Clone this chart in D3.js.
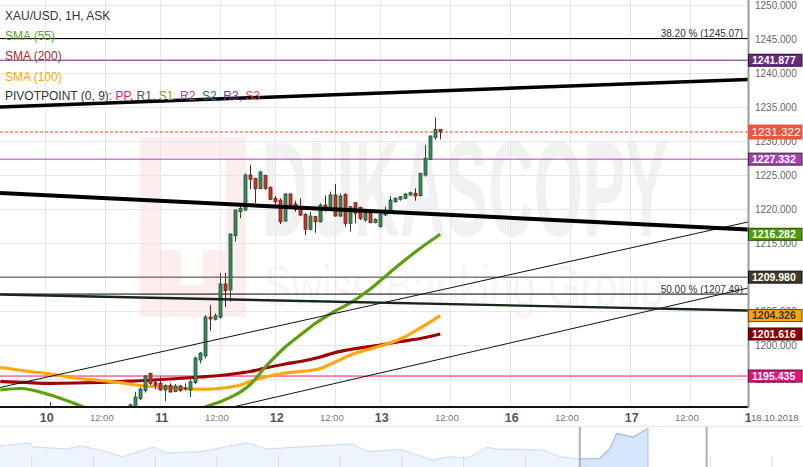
<!DOCTYPE html>
<html><head><meta charset="utf-8">
<script src="https://cdn.jsdelivr.net/npm/d3@7"></script>
<style>
body{margin:0;background:#fff;}
svg{display:block;font-family:"Liberation Sans",Arial,sans-serif;}
</style>
</head><body>
<svg id="c" width="803" height="467"></svg>
<script>
// ---------------- DATA ----------------
// hourly candles, x = bar index (0 = Oct 10 00:00, 23 bars per trading day)
const candleBar   = [-4,1,6,17,18,19,20,21,22,23,24,25,26,27,28,29,30,31,32,33,34,35,36,37,38,39,40,41,42,43,44,45,46,47,48,49,50,51,52,53,54,55,56,57,58,59,60,61,62,63,64,65,66,67,68,69,70,71,72,73,74,75,76,77,78,79];
const candleOpen  = [1188.5,1190.0,1189.0,1190.3,1190.9,1192.10,1193.28,1195.84,1194.46,1194.37,1193.38,1194.07,1193.13,1193.97,1193.53,1193.38,1194.46,1197.79,1198.38,1204.12,1203.78,1204.07,1208.97,1208.09,1216.07,1219.60,1219.85,1225.00,1224.51,1222.99,1224.96,1223.19,1221.57,1221.32,1218.24,1222.21,1220.74,1220.10,1219.22,1217.01,1218.87,1218.13,1220.59,1220.34,1222.06,1218.97,1222.16,1217.90,1220.93,1220.25,1218.38,1219.37,1217.99,1217.40,1219.12,1219.85,1221.07,1221.43,1221.57,1222.06,1222.31,1221.96,1225.00,1227.31,1230.54,1231.72];
const candleHigh  = [1191.05,1191.6,1191.0,1191.4,1193.13,1193.78,1195.6,1195.9,1194.85,1195.34,1194.2,1194.37,1194.26,1194.12,1194.37,1194.96,1198.28,1199.0,1204.4,1205.88,1204.66,1210.59,1210.59,1216.4,1219.9,1220.59,1225.25,1226.47,1224.6,1225.63,1225.0,1223.28,1221.9,1221.57,1222.3,1222.3,1221.22,1221.57,1219.37,1219.6,1218.97,1220.85,1222.0,1222.55,1223.68,1222.3,1222.3,1220.44,1220.93,1220.34,1219.85,1219.46,1218.63,1219.6,1220.34,1221.91,1221.72,1221.91,1222.3,1222.55,1223.04,1225.34,1229.41,1230.8,1233.49,1231.75];
const candleLow   = [1187.5,1188.5,1188.0,1190.0,1190.6,1191.9,1193.0,1194.1,1193.5,1193.28,1191.76,1193.0,1193.1,1193.13,1193.28,1192.35,1194.26,1197.3,1198.0,1202.10,1203.6,1203.9,1205.59,1206.37,1215.19,1218.63,1219.7,1222.90,1220.88,1222.9,1222.8,1221.32,1220.59,1217.79,1218.13,1220.34,1219.6,1218.97,1216.18,1216.9,1216.51,1218.0,1219.6,1220.25,1218.87,1218.8,1217.40,1216.66,1217.90,1218.38,1218.13,1217.90,1217.90,1217.25,1218.97,1219.75,1220.93,1221.22,1221.43,1221.91,1221.22,1221.81,1224.75,1227.2,1230.15,1230.25];
const candleClose = [1189.0,1189.2,1189.8,1191.2,1192.35,1193.53,1195.44,1194.37,1194.07,1193.38,1194.07,1193.09,1193.97,1193.28,1193.68,1194.60,1198.09,1198.82,1204.12,1203.82,1204.31,1208.97,1207.99,1216.32,1219.85,1220.10,1225.00,1224.37,1223.04,1225.44,1223.04,1221.43,1221.07,1218.13,1222.21,1220.59,1219.96,1219.12,1217.01,1218.97,1218.13,1220.59,1220.34,1222.06,1218.97,1221.91,1217.90,1220.34,1219.37,1218.63,1219.37,1217.99,1218.49,1219.22,1219.85,1221.32,1221.57,1221.81,1222.21,1222.40,1221.91,1225.25,1227.46,1230.74,1231.72,1231.322];

// moving averages
const sma55Bar  = [-9,-5,1,7,13,19,25,30,32,35,38,41,44,48,51,54,58,61,65,70,74,79];
const sma55Val  = [1193.38,1193.60,1192.65,1191.07,1189.26,1188.24,1188.68,1190.15,1190.88,1191.66,1192.65,1194.19,1196.76,1199.71,1201.47,1203.16,1205.0,1206.18,1208.24,1211.32,1213.68,1216.282];
const smaBar    = [-9,-4,1,6,11,15,19,25,31,35,39,41,44,48,51,55,58,61,67,71,75,79];
const sma200Val = [1194.63,1194.49,1194.37,1194.41,1194.49,1194.60,1194.74,1195.00,1195.29,1195.51,1195.88,1196.10,1196.62,1197.21,1197.57,1198.24,1198.90,1199.34,1200.00,1200.51,1200.96,1201.616];
const sma100Val = [1196.69,1196.18,1195.74,1195.15,1194.78,1194.46,1194.04,1193.75,1193.49,1193.63,1194.12,1194.63,1195.29,1195.88,1196.10,1196.54,1197.50,1198.53,1199.85,1200.88,1202.50,1204.326];

// drawn lines: [startBar, endBar] and [startPrice, endPrice]
const lineBars      = [-9.06, 140.54];
const trendUpper    = [1235.00, 1239.04];
const trendLower    = [1222.35, 1216.99];
const channelUpper  = [1193.75, 1218.09];
const channelLower  = [1182.97, 1208.38];
const darkTrend     = [1207.43, 1205.07];

// fibonacci and pivot levels
const fibValues = [1245.07, 1207.49];
const fibLabels = ["38.20 % (1245.07)", "50.00 % (1207.49)"];
const pivotNames  = ["R3","R2","R1","PP"];
const pivotValues = [1241.877, 1227.332, 1209.980, 1195.435];
const lastPrice = 1231.322;

// price tags on the right axis
const tagValues = [1241.877, 1231.322, 1227.332, 1216.282, 1209.980, 1204.326, 1201.616, 1195.435];

// axes
const yTicks = [1195,1200,1205,1210,1215,1220,1225,1230,1235,1240,1245,1250];
const xTickBars   = [0,12,23,35,46,58,67,81,93,105,117,129,141];
const xTickLabels = ["10","12:00","11","12:00","12","12:00","13","12:00","16","12:00","17","12:00","18"];
const dateLabel = "18.10.2018";

// navigator (position in % of width, value in % of height)
const navPos = [0,3.7,4.1,8.3,10.0,12.5,15.3,18.7,19.1,20.8,24.9,28.6,30.8,33.2,37.4,41.5,44.0,45.7,49.8,53.9,56.0,58.2,60.6,62.3,65.1,67.6,69.7,72.2,74.7,76.0,76.8,78.8,80.7];
const navVal = [50,57.1,47.6,42.9,50,40.5,24.5,45.2,47.6,33.3,36.4,50,57.1,42.9,47.6,52.4,54.8,36.4,42.1,16.7,24.5,20.7,46.9,42.1,42.1,40.5,24.5,19.0,20.7,44.5,80.2,70.7,92.1];

// legend
const legendTitle = "XAU/USD, 1H, ASK";
const legendSma = ["SMA (55)","SMA (200)","SMA (100)"];
const legendPivotParts = ["PP","R1","S1","R2","S2","R3","S3"];

// ---------------- STYLE ----------------
const plotR = 748, plotB = 407;
const C = {
  grid:"#e6e6e6", green:"#5e9f0e", sma200:"#a10000", sma100:"#ffa70f",
  upFill:"#3c8c5c", upStroke:"#1f4f33", dnFill:"#c8392a", dnStroke:"#6e1a10",
  R3:"#6b2b7c", R2:"#a543ae", R1:"#4a4332", PP:"#e3186f"
};
const tagStyle = [
  {bg:"#6b2b7c", bd:"#2c0f35", fg:"#fff", big:false},
  {bg:"#e9573f", bd:"#e9573f", fg:"#fff", big:true},
  {bg:"#a543ae", bd:"#4b1a50", fg:"#fff", big:false},
  {bg:"#4e9a08", bd:"#214a00", fg:"#fff", big:false},
  {bg:"#3f3a2a", bd:"#111", fg:"#fff", big:false},
  {bg:"#ffa500", bd:"#6a4a00", fg:"#333", big:false},
  {bg:"#8e0000", bd:"#3a0000", fg:"#fff", big:false},
  {bg:"#e7127a", bd:"#6a0030", fg:"#fff", big:false}
];
const legendSmaColors = ["#5fa51c","#b02a2a","#ffa500"];
const legendPivotColors = ["#e8186c","#555555","#8a9a2a","#9b4fb0","#2e6a8a","#7b3f95","#e2543c"];

// ---------------- CHART ----------------
const svg = d3.select("#c");
const x = d3.scaleLinear().domain([lineBars[0], lineBars[1]]).range([0, plotR]);
const y = d3.scaleLinear().domain([1195, 1250]).range([379, 5]);

svg.append("defs").append("clipPath").attr("id","plot")
  .append("rect").attr("x",0).attr("y",0).attr("width",plotR).attr("height",plotB);

// watermark
const wm = svg.append("g").attr("clip-path","url(#plot)");
wm.append("rect").attr("x",140).attr("y",137).attr("width",106).attr("height",180).attr("fill","#fcedef");
wm.append("rect").attr("x",160).attr("y",157).attr("width",66).attr("height",93).attr("fill","#fff");
wm.append("rect").attr("x",181).attr("y",250).attr("width",22).attr("height",35).attr("fill","#fff");
wm.append("text").attr("x",262).attr("y",236).attr("font-size",136).attr("font-weight","bold")
  .attr("fill","#f1f1f1").attr("textLength",406).attr("lengthAdjust","spacingAndGlyphs").text("DUKASCOPY");
wm.append("text").attr("x",264).attr("y",306).attr("font-size",58)
  .attr("fill","#f6f6f6").attr("textLength",400).attr("lengthAdjust","spacingAndGlyphs").text("Swiss Banking Group");

// grid
const grid = svg.append("g");
grid.selectAll(".hg").data(yTicks).join("line")
  .attr("x1",0).attr("x2",plotR).attr("y1",d=>y(d)+0.5).attr("y2",d=>y(d)+0.5)
  .attr("stroke",C.grid);
grid.selectAll(".vg").data(xTickBars.filter(b=>x(b)<plotR)).join("line")
  .attr("x1",d=>Math.round(x(d))+0.5).attr("x2",d=>Math.round(x(d))+0.5).attr("y1",0).attr("y2",plotB)
  .attr("stroke",C.grid);

const plot = svg.append("g").attr("clip-path","url(#plot)");

// fib lines
plot.selectAll(".fib").data(fibValues).join("line")
  .attr("x1",0).attr("x2",plotR).attr("y1",d=>y(d)).attr("y2",d=>y(d))
  .attr("stroke","#000").attr("stroke-width",1);
plot.selectAll(".fibt").data(fibValues).join("text")
  .attr("x",743).attr("y",d=>y(d)-1.5).attr("text-anchor","end")
  .attr("font-size",10).attr("fill","#333").text((d,i)=>fibLabels[i]);

// pivot lines
plot.selectAll(".piv").data(pivotValues).join("line")
  .attr("x1",0).attr("x2",plotR).attr("y1",d=>y(d)).attr("y2",d=>y(d))
  .attr("stroke",(d,i)=>C[pivotNames[i]]).attr("stroke-width",1);

// last price dashed
plot.append("line").attr("x1",0).attr("x2",plotR).attr("y1",y(lastPrice)).attr("y2",y(lastPrice))
  .attr("stroke","#e8492f").attr("stroke-dasharray","3,2");

// SMA lines
const smaLine = d3.line().x(d=>x(d[0])).y(d=>y(d[1])).curve(d3.curveMonotoneX);
plot.append("path").attr("d",smaLine(smaBar.map((b,i)=>[b,sma200Val[i]])))
  .attr("fill","none").attr("stroke",C.sma200).attr("stroke-width",3.2);
plot.append("path").attr("d",smaLine(smaBar.map((b,i)=>[b,sma100Val[i]])))
  .attr("fill","none").attr("stroke",C.sma100).attr("stroke-width",3.2);
plot.append("path").attr("d",smaLine(sma55Bar.map((b,i)=>[b,sma55Val[i]])))
  .attr("fill","none").attr("stroke",C.green).attr("stroke-width",3.2);

// candles
const candles = candleBar.map((b,i)=>({b,o:candleOpen[i],h:candleHigh[i],l:candleLow[i],c:candleClose[i]}));
const cg = plot.selectAll(".cdl").data(candles).join("g");
cg.append("line")
  .attr("x1",d=>Math.round(x(d.b))+0.5).attr("x2",d=>Math.round(x(d.b))+0.5)
  .attr("y1",d=>y(d.h)).attr("y2",d=>y(d.l))
  .attr("stroke",d=>d.c>=d.o?C.upStroke:C.dnStroke).attr("stroke-width",1);
cg.append("rect")
  .attr("x",d=>Math.round(x(d.b))-1)
  .attr("width",3)
  .attr("y",d=>y(Math.max(d.o,d.c)))
  .attr("height",d=>Math.max(1,Math.abs(y(d.o)-y(d.c))))
  .attr("fill",d=>d.c>=d.o?C.upFill:C.dnFill)
  .attr("stroke",d=>d.c>=d.o?C.upStroke:C.dnStroke).attr("stroke-width",0.8);

// drawn trend lines
function seg(vals, w, col){
  plot.append("line")
    .attr("x1",x(lineBars[0])).attr("y1",y(vals[0]))
    .attr("x2",x(lineBars[1])).attr("y2",y(vals[1]))
    .attr("stroke",col).attr("stroke-width",w);
}
seg(channelUpper,1,"#111");
seg(channelLower,1,"#111");
seg(darkTrend,2.4,"#16261a");
seg(trendUpper,3.5,"#000");
seg(trendLower,4,"#000");

// axes lines
svg.append("line").attr("x1",0).attr("x2",plotR).attr("y1",plotB).attr("y2",plotB)
  .attr("stroke","#111").attr("stroke-width",2);
svg.append("line").attr("x1",plotR+0.5).attr("x2",plotR+0.5).attr("y1",0).attr("y2",plotB+1)
  .attr("stroke","#9a9a9a").attr("stroke-width",2);

// y axis labels
svg.selectAll(".yl").data(yTicks).join("text")
  .attr("x",755).attr("y",d=>y(d)).attr("dy","0.35em")
  .attr("font-size",10).attr("fill","#666").text(d=>d3.format(".3f")(d));

// price tags
const tg = svg.selectAll(".tag").data(tagValues).join("g");
tg.append("rect")
  .attr("x",748.5).attr("width",53.5)
  .attr("y",(d,i)=>y(d)-(tagStyle[i].big?7:6))
  .attr("height",(d,i)=>tagStyle[i].big?14:12)
  .attr("fill",(d,i)=>tagStyle[i].bg).attr("stroke",(d,i)=>tagStyle[i].bd).attr("stroke-width",1);
tg.append("text")
  .attr("x",(d,i)=>tagStyle[i].big?751.5:752).attr("y",d=>y(d)).attr("dy","0.36em")
  .attr("font-size",(d,i)=>tagStyle[i].big?11.8:10.5).attr("font-weight",(d,i)=>tagStyle[i].big?"normal":"bold")
  .attr("fill",(d,i)=>tagStyle[i].fg).text(d=>d3.format(".3f")(d));

// x axis labels
svg.selectAll(".xl").data(xTickBars).join("text")
  .attr("x",(d,i)=>x(d)+(xTickLabels[i]==="12:00"?-3.5:1.5))
  .attr("y",(d,i)=>xTickLabels[i]==="12:00"?420.5:421.8)
  .attr("text-anchor","middle")
  .attr("font-size",(d,i)=>xTickLabels[i]==="12:00"?9.5:12.5)
  .attr("font-weight",(d,i)=>xTickLabels[i]==="12:00"?"normal":"bold")
  .attr("fill",(d,i)=>xTickLabels[i]==="12:00"?"#777":"#555")
  .text((d,i)=>xTickLabels[i]);
svg.append("rect").attr("x",751).attr("y",409).attr("width",52).attr("height",15).attr("fill","#fff");
svg.append("text").attr("x",751).attr("y",420.5).attr("font-size",9.5).attr("fill","#666").text(dateLabel);

// navigator
const nx = d3.scaleLinear().domain([0,100]).range([0,803]);
const ny = d3.scaleLinear().domain([0,100]).range([467,425]);
const navData = navPos.map((p,i)=>[p,navVal[i]]);
svg.append("line").attr("x1",0).attr("x2",803).attr("y1",426.5).attr("y2",426.5).attr("stroke","#e6e6e6");
const navArea = d3.area().x(d=>nx(d[0])).y0(467).y1(d=>ny(d[1]));
const navLn = d3.line().x(d=>nx(d[0])).y(d=>ny(d[1]));
svg.append("path").attr("d",navArea(navData)).attr("fill","#eef4fd");
svg.append("path").attr("d",navLn(navData)).attr("fill","none").attr("stroke","#c9dbf6").attr("stroke-width",1);
svg.append("defs").append("clipPath").attr("id","sel")
  .append("rect").attr("x",nx(72.2)).attr("y",420).attr("width",nx(80.7)-nx(72.2)+1).attr("height",50);
const sel = svg.append("g").attr("clip-path","url(#sel)");
sel.append("path").attr("d",navArea(navData)).attr("fill","#d7e5fa");
sel.append("path").attr("d",navLn(navData)).attr("fill","none").attr("stroke","#9cc0f2").attr("stroke-width",1.2);
svg.append("line").attr("x1",nx(80.7)).attr("x2",nx(80.7)).attr("y1",ny(navVal[navVal.length-1])).attr("y2",467)
  .attr("stroke","#9cc0f2");
const navTicks = d3.range(0,13).map(k=>31.7+61.7*k).filter(v=>v<803);
svg.selectAll(".nt").data(navTicks).join("line")
  .attr("x1",d=>d).attr("x2",d=>d).attr("y1",456).attr("y2",467).attr("stroke","#dcdcdc");
[72.2, 88.0].forEach(p=>{
  svg.append("line").attr("x1",nx(p)).attr("x2",nx(p)).attr("y1",427).attr("y2",467)
    .attr("stroke","#b0b0b0").attr("stroke-width",2);
});

// legend
const lg = svg.append("g").attr("font-size",12);
lg.append("text").attr("x",5).attr("y",19.8).attr("fill","#333").text(legendTitle);
lg.selectAll(".ls").data(legendSma).join("text")
  .attr("x",5).attr("y",(d,i)=>39.5+i*20.5).attr("fill",(d,i)=>legendSmaColors[i]).text(d=>d);
const pt = lg.append("text").attr("x",5).attr("y",100.4).attr("fill","#333");
pt.append("tspan").text("PIVOTPOINT (0, 9): ");
legendPivotParts.forEach((p,i)=>{
  pt.append("tspan").attr("fill",legendPivotColors[i]).text(p);
  if(i<legendPivotParts.length-1) pt.append("tspan").attr("fill","#333").text(", ");
});
</script>
</body></html>
